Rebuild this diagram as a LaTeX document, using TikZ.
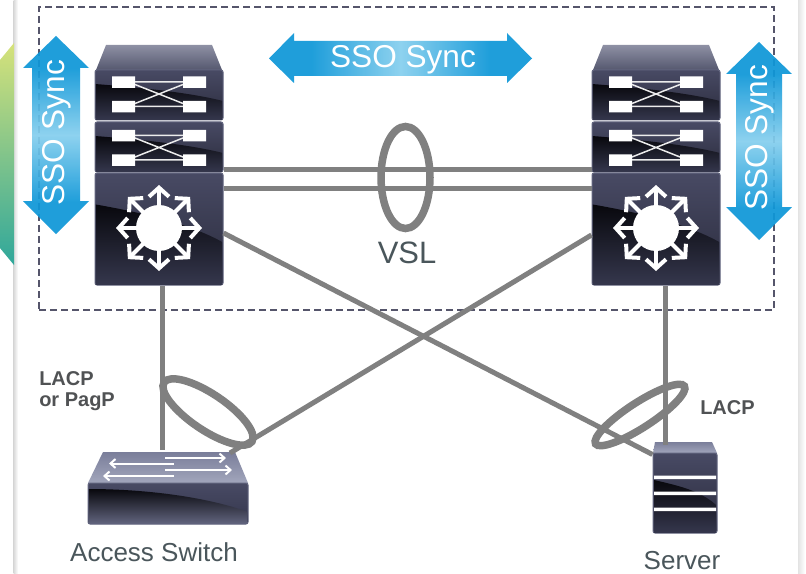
\documentclass[tikz,border=0pt]{standalone}
\usepackage{fontspec}
\setmainfont{Liberation Sans}
\usetikzlibrary{calc,shapes.geometric,arrows.meta}
\def\pxu{0.75pt}
\definecolor{linkgray}{HTML}{808080}
\definecolor{textgray}{HTML}{4A565B}
\definecolor{boldgray}{HTML}{505254}
\definecolor{dashcol}{HTML}{55556B}
\definecolor{ssoblue}{HTML}{0E97D8}
\definecolor{ssolight}{HTML}{86CFEE}
\definecolor{devdark}{HTML}{08080D}
\definecolor{devmid}{HTML}{35374D}
\definecolor{devtop}{HTML}{484A64}
\definecolor{devlow}{HTML}{2A2B3C}
\definecolor{devedge}{HTML}{62657F}
\definecolor{captop}{HTML}{8E90A4}
\definecolor{capbot}{HTML}{55586F}
\definecolor{facetop}{HTML}{7A7E9A}
\definecolor{facebot}{HTML}{A2A6BC}
\definecolor{slivertop}{HTML}{D6E27A}
\definecolor{sliverbot}{HTML}{2FA79B}
\definecolor{sliverhalf}{HTML}{6CC090}
\pgfdeclareverticalshading{ssoshade}{100bp}{color(0bp)=(ssoblue); color(33bp)=(ssoblue); color(50bp)=(ssolight); color(67bp)=(ssoblue); color(100bp)=(ssoblue)}
\tikzset{
  x=0.75pt,y=-0.75pt,
  link/.style={draw=linkgray,line width=5*\pxu},
  bundle/.style={draw=linkgray,ellipse,line width=7.5*\pxu,inner sep=0pt,fill=none},
  dashbox/.style={draw=dashcol,line width=2.4*\pxu,dash pattern=on 7*\pxu off 4*\pxu,inner sep=0pt},
  ssoarrow/.style={shading=ssoshade,opacity=0.93},
  ssotext/.style={text=white,font=\fontsize{23.7pt}{26pt}\selectfont,inner sep=0pt},
  bigtext/.style={text=textgray,font=\fontsize{19.5pt}{22pt}\selectfont,inner sep=0pt},
  vsltext/.style={text=textgray,font=\fontsize{23.2pt}{26pt}\selectfont,inner sep=0pt},
  boldtext/.style={text=boldgray,font=\bfseries\fontsize{15pt}{15.8pt}\selectfont,inner sep=0pt,align=left},
  devbody/.style={draw=devedge,line width=1*\pxu,rounded corners=1.5pt,top color=devtop,bottom color=devlow,inner sep=0pt},
  whitebox/.style={fill=white,draw=none},
  thinw/.style={draw=white!85!gray,line width=1.5*\pxu},
  routerarrow/.style={draw=white,line width=4*\pxu,-{Straight Barb[length=9*\pxu,width=20*\pxu,line width=4*\pxu]}},
  swarrow/.style={draw=white,line width=2*\pxu,-{Straight Barb[length=5*\pxu,width=9*\pxu,line width=2*\pxu]}},
}
% gloss #1 x0, #2 y0, #3 width, #4 height
\newcommand{\gloss}[4]{%
  \begin{scope}
    \clip (#1+0.8,#2+0.8) rectangle (#1+#3-0.8,#2+#4-0.8);
    \path[top color=devdark,bottom color=devmid]
      (#1,#2+0.28*#4) .. controls (#1+0.4*#3,#2+0.36*#4) and (#1+0.75*#3,#2+0.46*#4) .. (#1+#3,#2+0.62*#4)
      -- (#1+#3,#2+#4) -- (#1,#2+#4) -- cycle;
  \end{scope}}
% crossed module, #1 name, #2 y top, #3 y of the white rows
\newcommand{\xmodule}[3]{%
  \node[devbody,minimum width=128*\pxu,minimum height=50*\pxu] (#1) at (159,#2+25) {};
  \gloss{95}{#2}{128}{50}
  \draw[thinw] (135,#3+5.5) -- (183,#3+5.5) (135,#3+30) -- (183,#3+30)
    (135,#3+8) -- (183,#3+27) (135,#3+27) -- (183,#3+8);
  \path[whitebox] (112,#3) rectangle (135,#3+11.5) (183,#3) rectangle (206,#3+11.5)
    (112,#3+24.5) rectangle (135,#3+36) (183,#3+24.5) rectangle (206,#3+36);
}
% whole chassis, #1 name prefix, #2 x shift
\newcommand{\chassis}[2]{%
  \begin{scope}[shift={(#2,0)}]
    \path[top color=captop,bottom color=capbot] (106,45) -- (212,45) -- (222,70) -- (96,70) -- cycle;
    \xmodule{#1a}{70}{76.5}
    \xmodule{#1b}{122}{130}
    \node[devbody,minimum width=128*\pxu,minimum height=112*\pxu] (#1r) at (159,229) {};
    \gloss{95}{173}{128}{112}
    \foreach \a in {0,45,...,315}{
      \draw[routerarrow] (159,228) -- ++({\a}:{(mod(\a,90)==0 ? 43 : 44)});
    }
    \path[fill=white] (159,228) circle (23);
  \end{scope}}
\begin{document}
\begin{tikzpicture}
\useasboundingbox (0,0) rectangle (806,574);
\fill[white] (0,0) rectangle (806,574);
% page edge shadows
\path[left color=gray!30,right color=white] (13.5,0) rectangle (18,574);
\path[left color=gray!22,right color=white] (798,0) rectangle (805,574);
% slide-side colour sliver
\path[top color=slivertop,middle color=sliverhalf,bottom color=sliverbot]
  (14,43) -- (0,60) -- (0,248) -- (14,265) -- cycle;
% dashed group
\node[dashbox,minimum width=735*\pxu,minimum height=303*\pxu] (group) at (406.5,158.5) {};
% devices
\chassis{l}{0}
\chassis{k}{497}
% access switch
\path[top color=facetop,bottom color=facebot] (103,452) -- (235,452) -- (248,483) -- (88,483) -- cycle;
\node[devbody,top color=devtop,bottom color=devmid,minimum width=160*\pxu,minimum height=41*\pxu] (acc) at (168,503.5) {};
\begin{scope}
  \clip (88.8,484) rectangle (247.2,523.2);
  \path[top color=devdark,bottom color=devedge] (88,489) .. controls (150,489) and (210,498) .. (248,512) -- (248,524) -- (88,524) -- cycle;
\end{scope}
\coordinate (acct) at (168,452);
\draw[swarrow] (165,458) -- (226,458);
\draw[swarrow] (174,463.5) -- (109,463.5);
\draw[swarrow] (165,470) -- (232,470);
\draw[swarrow] (174,476) -- (103,476);
% server
\path[top color=facetop,bottom color=facebot] (655,442) -- (712,442) -- (717,453) -- (653,453) -- cycle;
\node[devbody,minimum width=64*\pxu,minimum height=80*\pxu] (srv) at (685,493) {};
\begin{scope}
  \clip (653.8,454) rectangle (716.2,532);
  \path[top color=devdark,bottom color=devmid] (654,480) .. controls (675,485) and (700,490) .. (716,505) -- (716,533) -- (654,533) -- cycle;
\end{scope}
\path[fill=white] (654,475.5) rectangle (716,479) (654,491.5) rectangle (716,495) (654,507.5) rectangle (716,511);
\coordinate (srvt) at (685,442);
% links
\draw[link] ($(lr.north east)+(0,-3)$) -- ($(kr.north west)+(0,-3)$);
\draw[link] ($(lr.east)+(0,-41)$) -- ($(kr.west)+(0,-41)$);
\draw[link] ($(lr.south)+(3,0)$) -- ($(acct)+(-6,-2)$);
\draw[link] ($(kr.south)+(9,0)$) -- ($(srvt)+(-20,3)$);
\draw[link] ($(lr.east)+(0,4)$) -- ($(srv.north west)+(0,2)$);
\draw[link] ($(kr.west)+(0,6)$) -- ($(acct)+(62,1)$);
% bundles
\node[bundle,minimum width=49*\pxu,minimum height=102*\pxu] (vslring) at (405.5,177.5) {};
\node[bundle,minimum width=106*\pxu,minimum height=36*\pxu,rotate=-34] (accring) at (208,412) {};
\node[bundle,minimum width=106*\pxu,minimum height=25*\pxu,rotate=33] (srvring) at (640,415) {};
% SSO arrows
\path[ssoarrow] (56,36) -- (89,68) -- (80,68) -- (80,201) -- (89,201) -- (56,234) -- (23,201) -- (32,201) -- (32,68) -- (23,68) -- cycle;
\node[ssotext,rotate=90] (ssol) at (57,133) {SSO Sync};
\path[ssoarrow] (759,42) -- (792,74) -- (782,74) -- (782,207) -- (792,207) -- (759,240) -- (726,207) -- (736,207) -- (736,74) -- (726,74) -- cycle;
\node[ssotext,rotate=90] (ssor) at (760,138) {SSO Sync};
\path[ssoarrow,shading angle=90] (269,58.5) -- (294,33) -- (294,41) -- (507,41) -- (507,33) -- (532,58.5) -- (507,83) -- (507,76) -- (294,76) -- (294,83) -- cycle;
\node[ssotext] (ssot) at (403,60) {SSO Sync};
% labels
\node[vsltext] (vsl) at (407,253) {VSL};
\node[bigtext] (acclabel) at (154,552) {Access Switch};
\node[bigtext] (srvlabel) at (682,560.5) {Server};
\node[boldtext,anchor=north west] (lacpl) at (39,371) {LACP\\or PagP};
\node[boldtext,anchor=west] (lacpr) at (700,408) {LACP};
\end{tikzpicture}
\end{document}
